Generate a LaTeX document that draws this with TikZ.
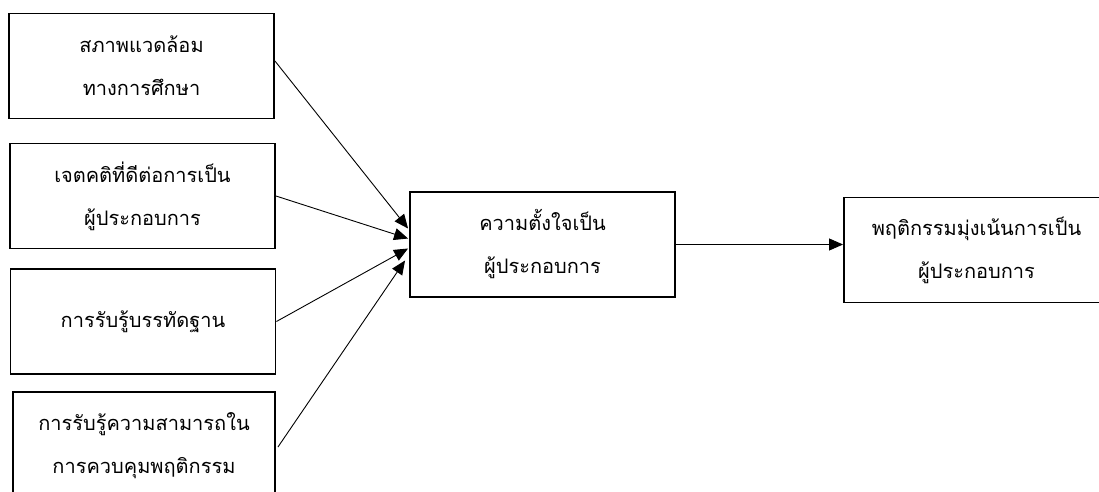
\documentclass[tikz,border=0pt]{standalone}
\usepackage{fontspec}
\newfontfamily\thaifont[Script=Thai]{Loma}
\usetikzlibrary{arrows.meta,calc}
\tikzset{
  box/.style={draw, line width=1.9pt, minimum width=265pt, minimum height=105pt, inner sep=0pt, align=center,
    font=\thaifont\fontsize{20}{43}\selectfont},
  conn/.style={line width=0.9pt, -{Triangle[length=14pt,width=12pt]}}
}
\begin{document}
\begin{tikzpicture}[x=1pt,y=-1pt]
\useasboundingbox (0,0) rectangle (1099,492);
\clip (0,0) rectangle (1099,492);
\fill[white] (0,0) rectangle (1099,492);
\node[box] (b1) at (141.5,66) {สภาพแวดล้อม\\ทางการศึกษา};
\node[box] (b2) at (142.5,196) {เจตคติที่ดีต่อการเป็น\\ผู้ประกอบการ};
\node[box] (b3) at (143,321.5) {การรับรู้บรรทัดฐาน};
\node[box, minimum width=262pt, minimum height=108pt] (b4) at (144,446) {การรับรู้ความสามารถใน\\การควบคุมพฤติกรรม};
\node[box] (c) at (542.5,244.5) {ความตั้งใจเป็น\\ผู้ประกอบการ};
\node[box] (r) at (976.5,250) {พฤติกรรมมุ่งเน้นการเป็น\\ผู้ประกอบการ};
\draw[conn] ($(b1.east)+(0,-5)$) -- ($(c.west)+(-1,-16)$);
\draw[conn] (b2.east) -- ($(c.west)+(-1,-6)$);
\draw[conn] (b3.east) -- ($(c.west)+(-1,4)$);
\draw[conn] ($(b4.east)+(2,1)$) -- ($(c.west)+(-4,16)$);
\draw[conn] (c.east) -- (c.east -| r.west);
\end{tikzpicture}
\end{document}
